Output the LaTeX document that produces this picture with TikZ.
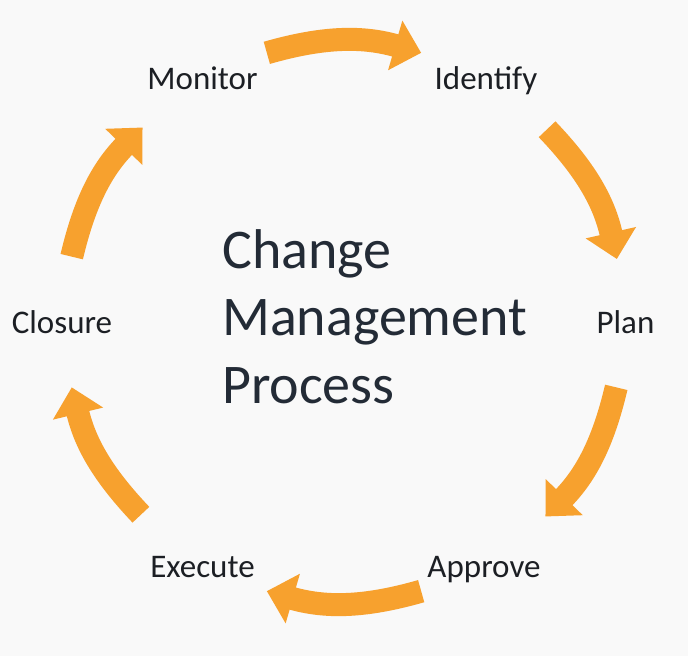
\documentclass[tikz,border=0pt]{standalone}
\usepackage{fontspec}
\setmainfont{Carlito}
\usepackage{xcolor}
\usepackage{tikz}
\usetikzlibrary{arrows.meta}
\definecolor{ink}{HTML}{1C1F24}
\definecolor{title}{HTML}{232B36}
\definecolor{amber}{HTML}{F7A12E}
\definecolor{paper}{HTML}{F9F9F9}
\tikzset{
  flow/.style={draw=amber, line width=23pt, -{Triangle[width=50pt,length=27pt]}},
  lab/.style={text=ink, font=\fontsize{33}{40}\selectfont, inner sep=0pt, anchor=base},
  head/.style={text=title, font=\fontsize{56}{67.5}\selectfont, inner sep=0pt, align=left},
}

\begin{document}
\begin{tikzpicture}[x=1pt,y=1pt]
  \def\R{280}     % ring
  \fill[paper] (-344,-334) rectangle (344,322);
  \useasboundingbox (-344,-334) rectangle (344,322);

  % base is the last line here
  \node[head,anchor=base west] (proc) at (-122,-81) {Change\\Management\\Process};

  \node[lab] (mon) at (-141.5,232) {Monitor};
  \node[lab] (ide) at (142,232) {Identify};
  \node[lab] (pla) at (281.5,-11) {Plan};
  \node[lab] (app) at (140,-255) {Approve};
  \node[lab] (exe) at (-141.5,-255) {Execute};
  \node[lab] (clo) at (-282,-11) {Closure};

  \coordinate (t1) at (106:\R);    \coordinate (h1) at (74:\R);
  \coordinate (t2) at (43.5:\R);   \coordinate (h2) at (13:\R);
  \coordinate (t3) at (-13.5:\R);  \coordinate (h3) at (-44:\R);
  \coordinate (t4) at (-74:\R);    \coordinate (h4) at (-106:\R);
  \coordinate (t5) at (-136.5:\R); \coordinate (h5) at (-166.5:\R);
  \coordinate (t6) at (166.5:\R);  \coordinate (h6) at (136:\R);

  \draw[flow] (t1) to[bend left=16] (h1);
  \draw[flow] (t2) to[bend left=15.5] (h2);
  \draw[flow] (t3) to[bend left=15.5] (h3);
  \draw[flow] (t4) to[bend left=16] (h4);
  \draw[flow] (t5) to[bend left=15] (h5);
  \draw[flow] (t6) to[bend left=15.5] (h6);
\end{tikzpicture}
\end{document}
